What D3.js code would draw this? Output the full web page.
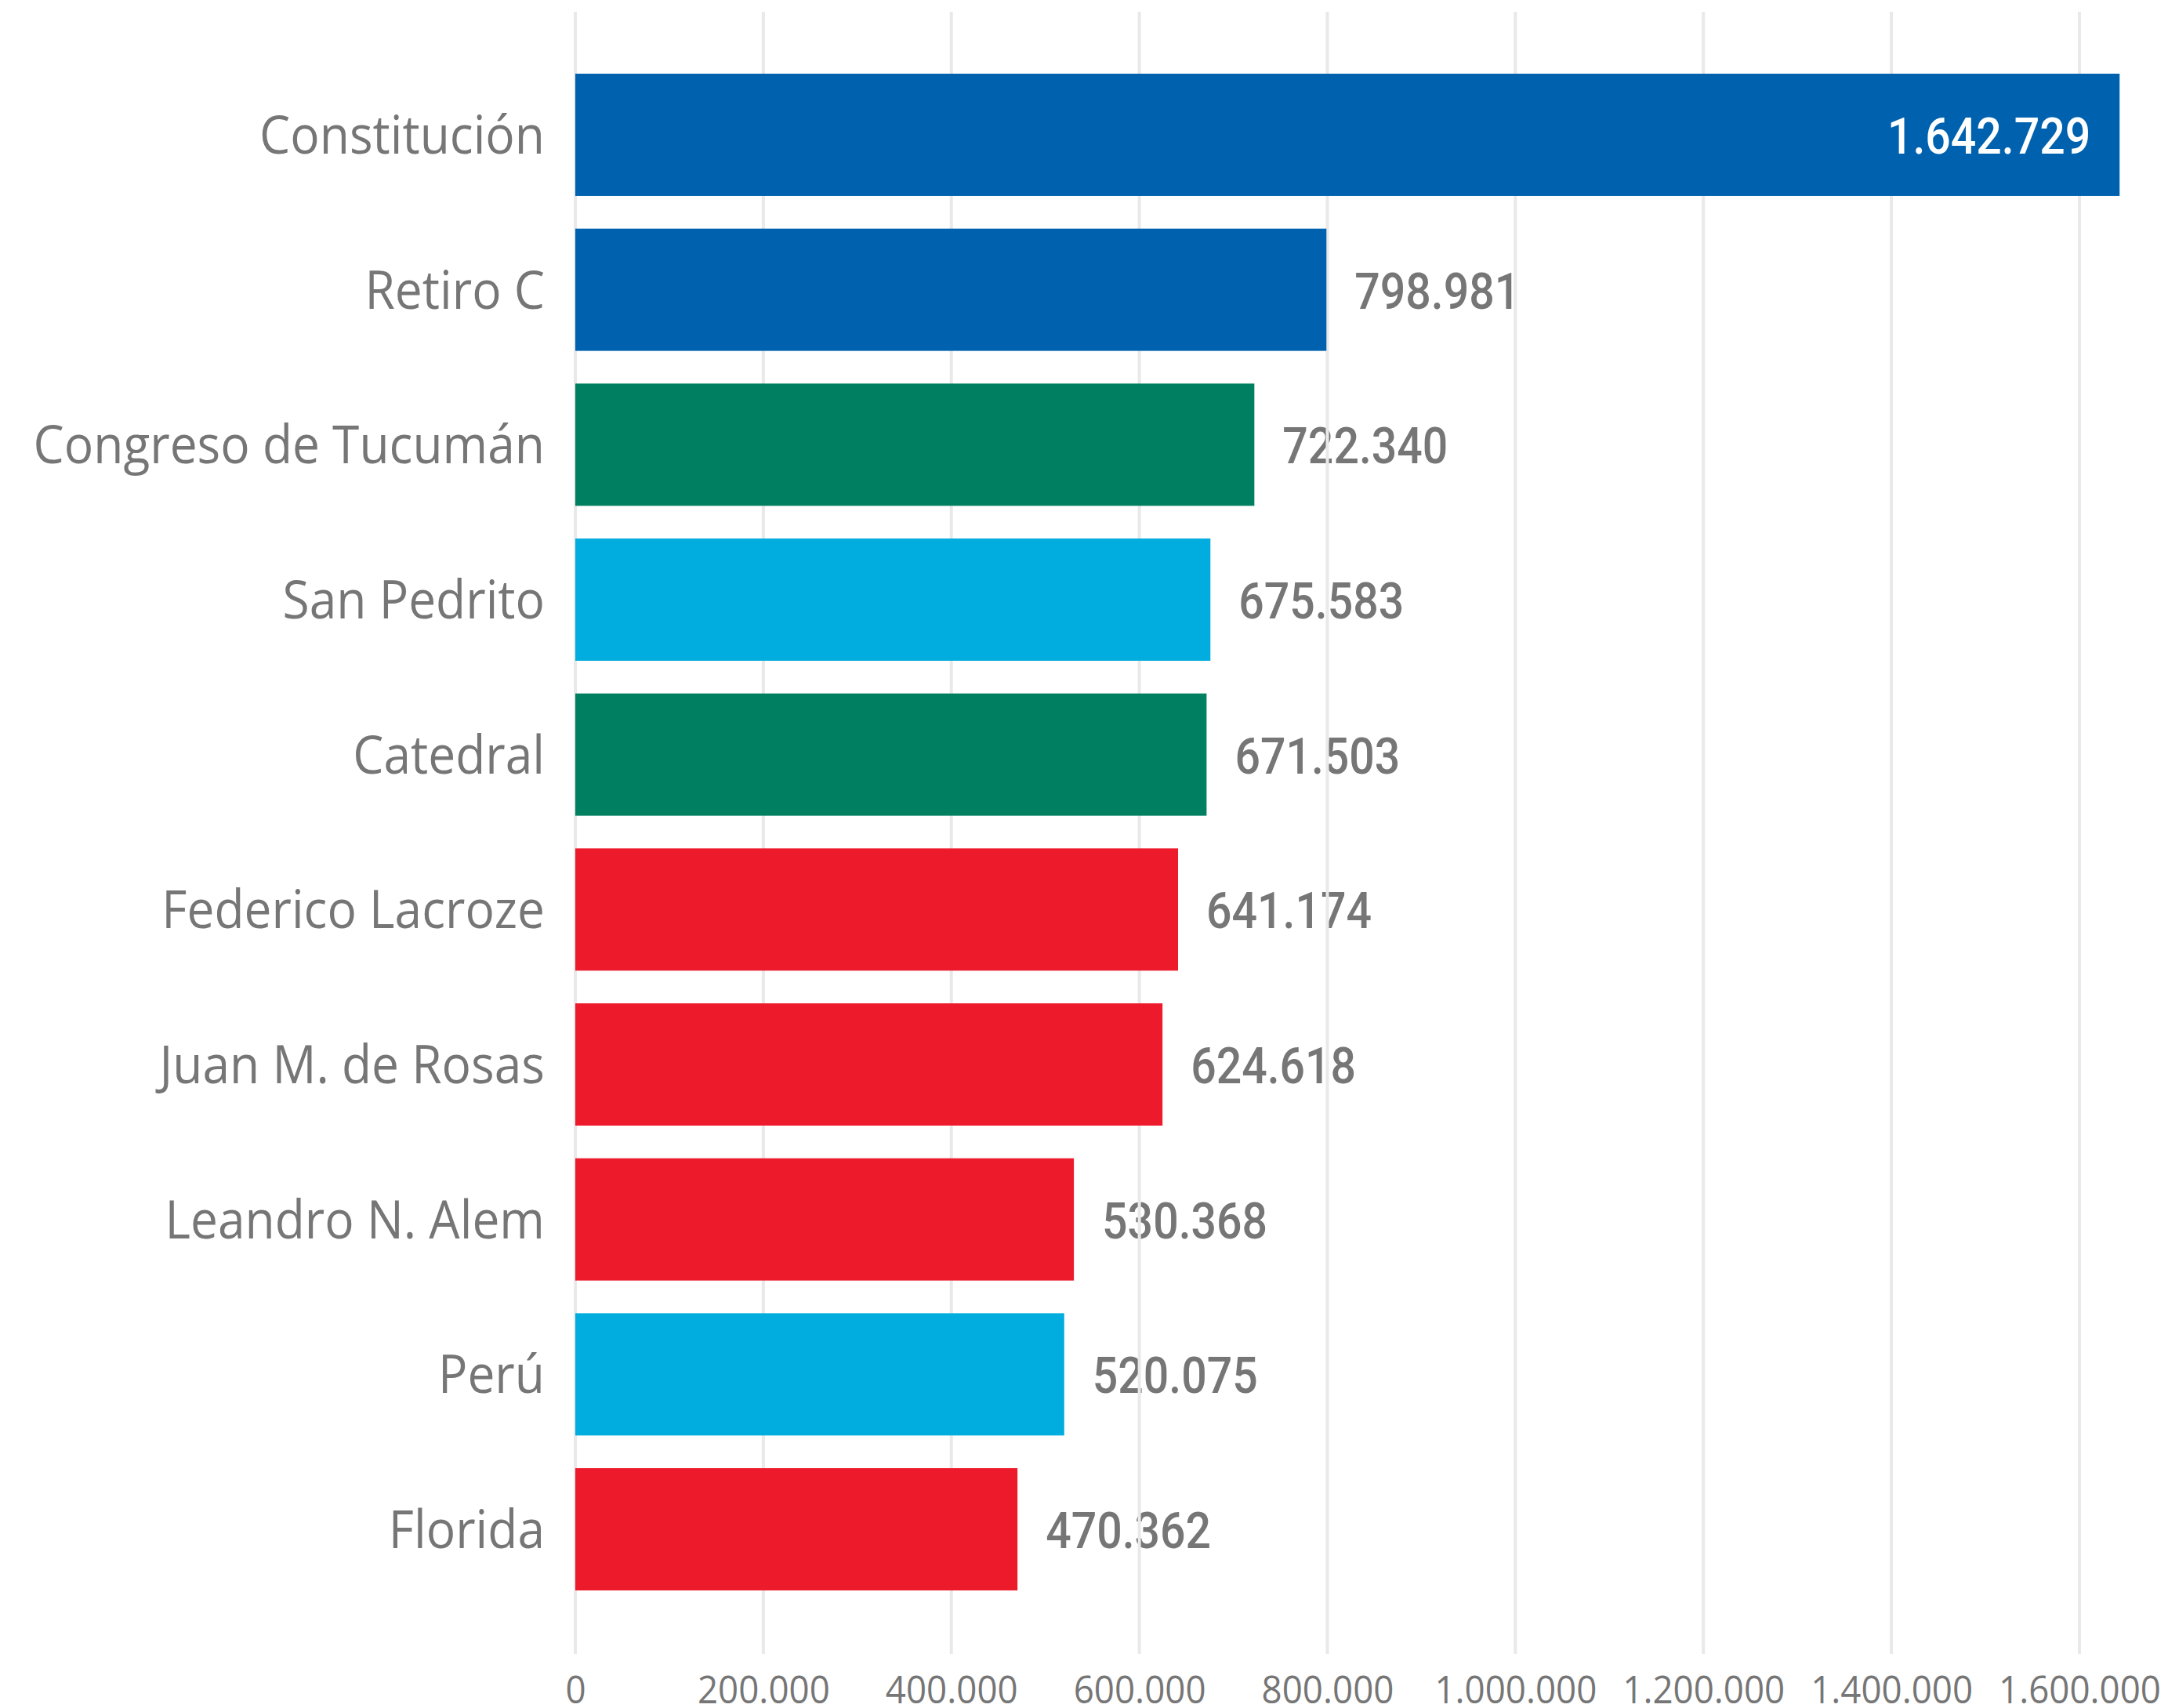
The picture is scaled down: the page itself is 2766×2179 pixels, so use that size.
<!DOCTYPE html>
<html>
<head>
<meta charset="utf-8">
<script src="https://cdn.jsdelivr.net/npm/d3@7"></script>
<style>
  html, body { margin: 0; padding: 0; background: #ffffff; }
  svg { display: block; }
</style>
</head>
<body>
<svg id="chart" width="2766" height="2179"></svg>
<script>
// ---- data ----
const stations = ["Constitución", "Retiro C", "Congreso de Tucumán", "San Pedrito", "Catedral",
  "Federico Lacroze", "Juan M. de Rosas", "Leandro N. Alem", "Perú", "Florida"];
const passengers = [1642729, 798981, 722340, 675583, 671503, 641174, 624618, 530368, 520075, 470362];
const subteLine = ["C", "C", "D", "A", "D", "B", "B", "B", "A", "B"];
const lineNames = ["A", "B", "C", "D"];
const lineColors = ["#00ADDE", "#ED1A2C", "#0062AF", "#008060"];
const tickValues = [0, 200000, 400000, 600000, 800000, 1000000, 1200000, 1400000, 1600000];

// ---- layout ----
const W = 2766, H = 2179;
const x0 = 734, x1 = 2653;
const gridTop = 15, gridBottom = 2110;
const svg = d3.select("#chart");

const loc = d3.formatLocale({ decimal: ",", thousands: ".", grouping: [3], currency: ["$", ""] });
const fmt = loc.format(",d");

const x = d3.scaleLinear().domain([0, 1600000]).range([x0, x1]);
const y = d3.scaleBand().domain(stations).range([94, 2029]).paddingInner(0.211).paddingOuter(0);
const color = d3.scaleOrdinal().domain(lineNames).range(lineColors);

const rows = stations.map((s, i) => ({ name: s, value: passengers[i], line: subteLine[i] }));

// helper to measure text and compute horizontal compression
function measure(str, family, size, weight) {
  const t = svg.append("text").attr("font-family", family).attr("font-size", size)
    .attr("font-weight", weight).text(str);
  const w = t.node().getComputedTextLength();
  t.remove();
  return w;
}
const catFont = "'Open Sans', 'Noto Sans', sans-serif", catSize = 68;
const valFont = "Roboto, 'Noto Sans', sans-serif", valSize = 65;
const tickFont = "'Open Sans', 'Noto Sans', sans-serif", tickSize = 49;
const catSx = 364 / measure("Constitución", catFont, catSize, 400);
const valSx = 211 / measure("798.981", valFont, valSize, 500);
const tickSx = 207 / measure("1.000.000", tickFont, tickSize, 400);

// value labels (drawn under gridlines)
const valG = svg.append("g");
rows.forEach(d => {
  const xe = x(d.value);
  const labW = measure(fmt(d.value), valFont, valSize, 500) * valSx;
  const inside = xe + 36 + labW > W - 20;
  const tx = inside ? xe - 37 : xe + 36;
  const ty = y(d.name) + y.bandwidth() / 2 + 24;
  valG.append("text")
    .attr("transform", `translate(${tx},${ty}) scale(${valSx},1)`)
    .attr("text-anchor", inside ? "end" : "start")
    .attr("font-family", valFont).attr("font-size", valSize).attr("font-weight", 500)
    .attr("fill", inside ? "#ffffff" : "#767676")
    .text(fmt(d.value));
});

// gridlines
svg.append("g").selectAll("line").data(tickValues).join("line")
  .attr("x1", d => x(d)).attr("x2", d => x(d))
  .attr("y1", gridTop).attr("y2", gridBottom)
  .attr("stroke", "#e9e9e9").attr("stroke-width", 4);

// bars
svg.append("g").selectAll("rect").data(rows).join("rect")
  .attr("x", x(0)).attr("y", d => y(d.name))
  .attr("width", d => x(d.value) - x(0)).attr("height", y.bandwidth())
  .attr("fill", d => color(d.line));

// white label on top of the wide bar needs to be re-drawn above the bar
rows.forEach(d => {
  const xe = x(d.value);
  const labW = measure(fmt(d.value), valFont, valSize, 500) * valSx;
  if (xe + 36 + labW > W - 20) {
    const ty = y(d.name) + y.bandwidth() / 2 + 24;
    svg.append("text")
      .attr("transform", `translate(${xe - 37},${ty}) scale(${valSx},1)`)
      .attr("text-anchor", "end")
      .attr("font-family", valFont).attr("font-size", valSize).attr("font-weight", 500)
      .attr("fill", "#ffffff")
      .text(fmt(d.value));
  }
});

// category labels
svg.append("g").selectAll("text").data(rows).join("text")
  .attr("transform", d => `translate(${x0 - 39},${y(d.name) + y.bandwidth() / 2 + 24}) scale(${catSx},1)`)
  .attr("text-anchor", "end")
  .attr("font-family", catFont).attr("font-size", catSize)
  .attr("fill", "#767676")
  .text(d => d.name);

// x axis tick labels
const axisG = svg.append("g").attr("transform", `translate(0,${gridBottom})`)
  .call(d3.axisBottom(x).tickValues(tickValues).tickFormat(fmt).tickSize(0).tickPadding(0));
axisG.select(".domain").remove();
axisG.selectAll(".tick text")
  .attr("y", 0).attr("dy", null)
  .attr("transform", `translate(0,63) scale(${tickSx},1)`)
  .attr("font-family", tickFont).attr("font-size", tickSize)
  .attr("fill", "#767676");
</script>
</body>
</html>
